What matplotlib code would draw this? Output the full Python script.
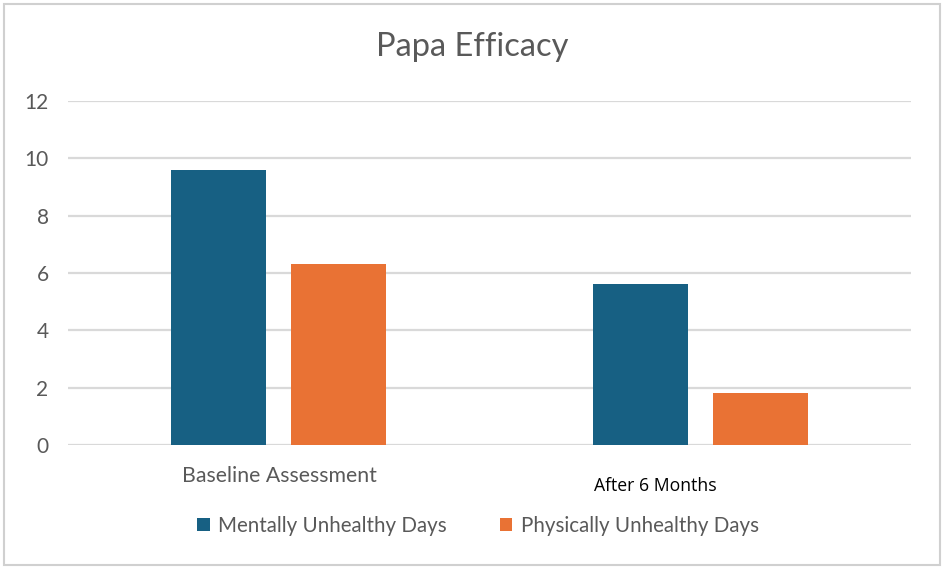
import matplotlib.pyplot as plt
from matplotlib.patches import Rectangle
import numpy as np

categories = ['Baseline Assessment', 'After 6 Months']
mental_days = [9.6, 5.6]
physical_days = [6.3, 1.8]
series_names = ['Mentally Unhealthy Days', 'Physically Unhealthy Days']

blue = '#176083'
orange = '#E97234'
grey = '#595959'

plt.rcParams['font.family'] = ['Lato', 'DejaVu Sans']

fig = plt.figure(figsize=(9.49, 5.73), dpi=100)
W, H = 949, 573
ax = fig.add_axes([68 / W, 1 - 445 / H, (911 - 68) / W, (445 - 101) / H])

x = np.arange(len(categories))
w = 0.225
ax.bar(x - 0.142, mental_days, w, color=blue, label=series_names[0], zorder=3)
ax.bar(x + 0.142, physical_days, w, color=orange, label=series_names[1], zorder=3)

ax.set_xlim(-0.5, 1.5)
ax.set_ylim(0, 12)
ax.set_yticks(range(0, 13, 2))
ax.yaxis.grid(True, color='#d9d9d9', linewidth=1.6, zorder=0)
ax.set_axisbelow(True)
for s in ax.spines.values():
    s.set_visible(False)
ax.tick_params(axis='y', length=0, pad=14, labelsize=15, labelcolor=grey)
ax.set_xticks([])

# category labels (second one was pasted in with a different font)
fig.text(279 / W, 1 - 476 / H, categories[0], ha='center', va='center',
         fontsize=15.3, color=grey)
fig.text(655 / W, 1 - 486 / H, categories[1], ha='center', va='center',
         fontsize=12.7, color='black', family=['Open Sans', 'DejaVu Sans'])

fig.text(472 / W, 1 - 47 / H, 'Papa Efficacy', ha='center', va='center',
         fontsize=23.5, color=grey)

leg = fig.legend(loc='center', bbox_to_anchor=(478 / W, 1 - 526 / H), ncol=2,
                 frameon=False, fontsize=14.8, handlelength=0.6, handleheight=0.6,
                 columnspacing=2.6, handletextpad=0.4)
for t in leg.get_texts():
    t.set_color(grey)

# chart frame
fig.patches.append(Rectangle((4 / W, 1 - 565 / H), (940 - 4) / W, (565 - 4) / H,
                             transform=fig.transFigure, fill=False,
                             edgecolor='#d0d0d0', linewidth=1.5))

fig.savefig('out.png', dpi=100)
